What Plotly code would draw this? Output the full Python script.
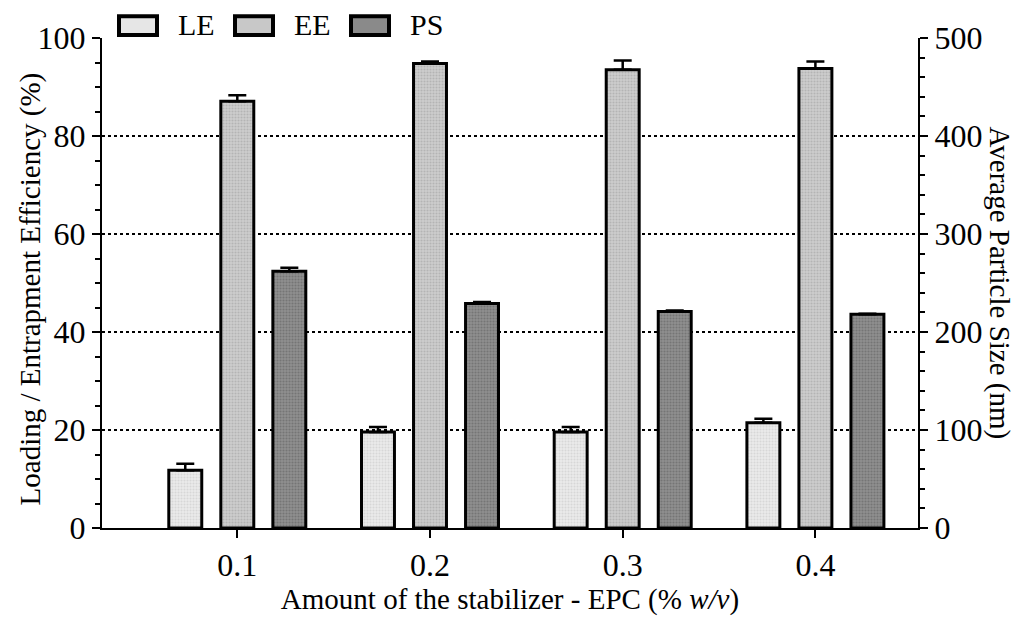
import plotly.graph_objects as go

# EPC stabilizer amount (% w/v)
epc = [0.1, 0.2, 0.3, 0.4]
tick_labels = ["0.1", "0.2", "0.3", "0.4"]

# Loading efficiency (%)
le = [11.8, 19.6, 19.6, 21.5]
le_err = [1.3, 1.0, 1.0, 0.8]

# Entrapment efficiency (%)
ee = [87.1, 94.8, 93.5, 93.8]
ee_err = [1.2, 0.4, 1.9, 1.4]

# Average particle size (nm)
ps = [262, 229, 221, 218]
ps_err = [3.5, 1.5, 1.0, 0.6]

FONT = "Liberation Serif, Times New Roman, serif"

# plot area in pixels
L, R, T, B = 102, 918, 38, 533
W, H = 1027, 618
PW, PH = R - L, B - T

bar_w = 0.0171
step = 0.027

fig = go.Figure()

def add_bars(name, y, err, off, fill, fg, axis):
    fig.add_trace(go.Bar(
        x=epc, y=y, name=name, width=bar_w, offset=off - bar_w / 2,
        yaxis=axis,
        marker=dict(color=fill, line=dict(color="black", width=3),
                    pattern=dict(shape=".", fgcolor=fg, bgcolor=fill,
                                 size=3, solidity=0.4)),
        error_y=dict(type="data", array=err, arrayminus=[0] * len(err),
                     symmetric=False, color="black", thickness=2.5, width=9),
        showlegend=False,
    ))

add_bars("LE", le, le_err, -step, "#ebebeb", "#c4c4c4", "y")
add_bars("EE", ee, ee_err, 0.0, "#cdcdcd", "#9c9c9c", "y")
add_bars("PS", ps, ps_err, step, "#8f8f8f", "#5c5c5c", "y2")

tickfont = dict(family=FONT, size=32, color="black")

fig.update_layout(
    width=W, height=H,
    margin=dict(l=L, r=W - R, t=T, b=H - B),
    plot_bgcolor="white", paper_bgcolor="white",
    font=dict(family=FONT, size=29, color="black"),
    xaxis=dict(
        range=[0.1 - (237.3 - L) / 1927, 0.4 + (R - 815.4) / 1927],
        tickvals=epc, ticktext=tick_labels, tickfont=tickfont,
        ticks="outside", ticklen=8, tickwidth=2, tickcolor="black",
        showline=True, linecolor="black", linewidth=2,
        showgrid=False, zeroline=False,
        title=dict(text="Amount of the stabilizer - EPC (% <i>w/v</i>)",
                   font=dict(family=FONT, size=29), standoff=2),
    ),
    yaxis=dict(
        range=[0, 100], tickvals=[0, 20, 40, 60, 80, 100], tickfont=tickfont,
        ticks="outside", ticklen=8, tickwidth=2, tickcolor="black",
        minor=dict(dtick=5, ticks="outside", ticklen=5, tickwidth=2,
                   tickcolor="black", showgrid=False),
        showline=True, linecolor="black", linewidth=2,
        showgrid=True, gridcolor="black", griddash="dot", gridwidth=1.5,
        zeroline=False,
    ),
    yaxis2=dict(
        range=[0, 500], tickvals=[0, 100, 200, 300, 400, 500], tickfont=tickfont,
        overlaying="y", side="right",
        ticks="outside", ticklen=8, tickwidth=2, tickcolor="black",
        minor=dict(dtick=20, ticks="outside", ticklen=5, tickwidth=2,
                   tickcolor="black", showgrid=False),
        showline=True, linecolor="black", linewidth=2,
        showgrid=False, zeroline=False,
    ),
)

def px_x(v):
    return (v - L) / PW

def px_y(v):
    return (B - v) / PH

# axis titles on both sides
fig.add_annotation(
    text="Loading / Entrapment Efficiency (%)", textangle=-90,
    xref="paper", yref="paper", x=px_x(30), y=px_y(292),
    xanchor="center", yanchor="middle",
    showarrow=False, font=dict(family=FONT, size=29),
)
fig.add_annotation(
    text="Average Particle Size (nm)", textangle=90,
    xref="paper", yref="paper", x=px_x(999), y=px_y(285),
    xanchor="center", yanchor="middle",
    showarrow=False, font=dict(family=FONT, size=29),
)

# legend drawn as framed swatches with labels
legend_items = [("LE", "#e6e6e6", 119), ("EE", "#c8c8c8", 235), ("PS", "#8a8a8a", 351)]
for name, col, x0 in legend_items:
    fig.add_shape(type="rect", xref="paper", yref="paper",
                  x0=px_x(x0), x1=px_x(x0 + 38), y0=px_y(35), y1=px_y(16),
                  fillcolor=col, line=dict(color="black", width=4))
    fig.add_annotation(text=name, xref="paper", yref="paper",
                       x=px_x(x0 + 57), y=px_y(24), xanchor="left", yanchor="middle",
                       showarrow=False, font=dict(family=FONT, size=30))

fig.write_html("out.html")
